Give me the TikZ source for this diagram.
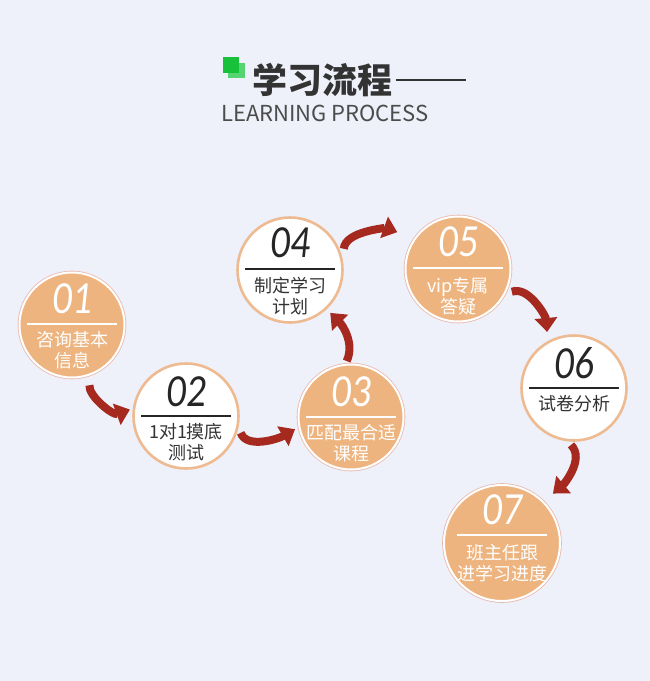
\documentclass[tikz,border=0pt]{standalone}
\usepackage{fontspec}
\usepackage{tikz}
\usetikzlibrary{arrows.meta}
\setmainfont{Noto Sans CJK SC}
\newfontfamily\numfont[FakeStretch=0.85]{Carlito}
\definecolor{bgcol}{HTML}{EEF1F9}
\definecolor{orfill}{HTML}{EDB47F}
\definecolor{orring}{HTML}{EDBA92}
\definecolor{pkring}{HTML}{E9B8AC}
\definecolor{arred}{HTML}{A5291F}
\definecolor{txtdark}{HTML}{333333}
\definecolor{grA}{HTML}{17C23A}
\definecolor{grB}{HTML}{55D472}

\begin{document}
\begin{tikzpicture}[x=1pt,y=1pt,
  orstate/.style={circle, minimum size=105pt, fill=orfill, draw=white, line width=2pt,
    preaction={draw=pkring, line width=3.6pt}},
  whstate/.style={circle, minimum size=105pt, fill=white, draw=orring, line width=2.6pt},
  numw/.style={text=white, font=\numfont\itshape\fontsize{46}{46}\selectfont},
  numd/.style={text=black!85, font=\numfont\itshape\fontsize{46}{46}\selectfont},
  labw/.style={text=white, align=center, font=\fontsize{18}{21}\selectfont},
  labd/.style={text=txtdark, align=center, font=\fontsize{18}{21}\selectfont},
  rulew/.style={draw=white, line width=1.5pt},
  ruled/.style={draw=black!85, line width=1.5pt},
  flow/.style={draw=arred, line width=8pt, -{Triangle[width=22pt,length=14pt]}}]
	\useasboundingbox[fill=bgcol] (0,0) rectangle (650,-681);
	\fill[grB] (228,-63) rectangle (245,-78);
	\fill[grA] (223,-57) rectangle (239,-73);
	\node[text=txtdark, font=\bfseries\fontsize{35}{35}\selectfont] (TT) at (322,-80) {学习流程};
	\draw[txtdark, line width=1.5pt] (TT.east) -- ++(70,0);
	\node[text=black!70, font=\fontsize{22}{22}\selectfont] (ST) at (325,-113) {LEARNING PROCESS};
	\node[orstate] (C1) at (72,-325) {};
	\node[whstate] (C2) at (186,-416) {};
	\node[orstate] (C3) at (351,-417) {};
	\node[whstate] (C4) at (290,-270) {};
	\node[orstate] (C5) at (458,-269) {};
	\node[whstate] (C6) at (574,-388) {};
	\node[orstate, minimum size=116pt] (C7) at (502,-543) {};
	\node[numw] (N1) at (72,-299) {01};
	\node[numd] (N2) at (186,-392) {02};
	\node[numw] (N3) at (351,-392) {03};
	\node[numd] (N4) at (290,-243) {04};
	\node[numw] (N5) at (458,-242) {05};
	\node[numd] (N6) at (574,-363) {06};
	\node[numw] (N7) at (502,-510) {07};
	\draw[rulew] ([shift={(-45pt,1pt)}]C1.center) -- ([shift={(45pt,1pt)}]C1.center);
	\draw[ruled] ([xshift=-45pt]C2.center) -- ([xshift=45pt]C2.center);
	\draw[rulew] ([xshift=-45pt]C3.center) -- ([xshift=45pt]C3.center);
	\draw[ruled] ([shift={(-45pt,1pt)}]C4.center) -- ([shift={(45pt,1pt)}]C4.center);
	\draw[rulew] ([shift={(-45pt,1pt)}]C5.center) -- ([shift={(45pt,1pt)}]C5.center);
	\draw[ruled] ([xshift=-45pt]C6.center) -- ([xshift=45pt]C6.center);
	\draw[rulew] ([shift={(-45pt,8pt)}]C7.center) -- ([shift={(45pt,8pt)}]C7.center);
	\node[labw] (T1) at (72,-350) {咨询基本\\信息};
	\node[labd] (T2) at (186,-442) {1对1摸底\\测试};
	\node[labw] (T3) at (351,-443) {匹配最合适\\课程};
	\node[labd] (T4) at (290,-296) {制定学习\\计划};
	\node[labw] (T5) at (458,-296) {vip专属\\答疑};
	\node[labd] (T6) at (574,-404) {试卷分析};
	\node[labw] (T7) at (502,-563) {班主任跟\\进学习进度};
	\draw[flow, shorten <=10pt, shorten >=3pt] (C1.-70) to[out=-95, in=200] (C2.172);
	\draw[flow, shorten <=6pt, shorten >=4pt] (C2.-12) to[out=-70, in=-150] (C3.-169);
	\draw[flow, shorten <=3pt, shorten >=5pt] (C3.96) to[out=65, in=-45] (C4.-47);
	\draw[flow, shorten <=11pt, shorten >=18pt] (C4.11) to[out=85, in=160] (C5.145);
	\draw[flow, shorten <=7pt, shorten >=9pt] (C5.-28) to[out=20, in=95] (C6.119);
	\draw[flow, shorten <=5pt, shorten >=12pt] (C6.-97) to[out=-45, in=40] (C7.45);
\end{tikzpicture}
\end{document}
